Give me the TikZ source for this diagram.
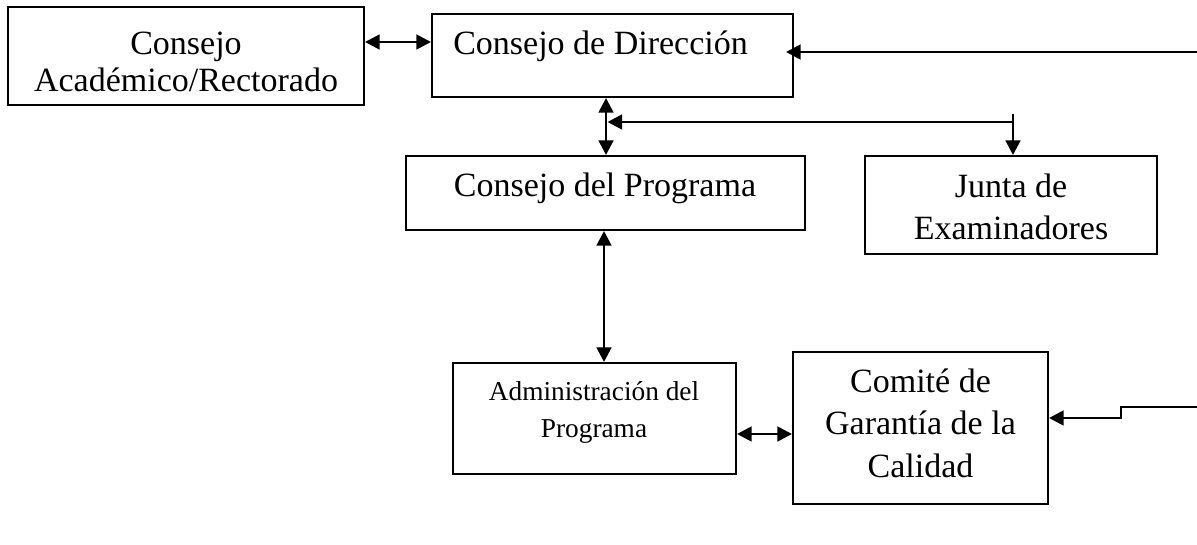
\documentclass[tikz,border=0pt]{standalone}
\usepackage{fontspec}
\setmainfont{Liberation Serif}
\usetikzlibrary{arrows.meta}
\tikzset{
  box/.style={draw, line width=1.5pt, inner sep=0pt},
  lbl/.style={anchor=base, inner sep=0pt, font=\fontsize{25.5}{30}\selectfont},
  slbl/.style={anchor=base, inner sep=0pt, font=\fontsize{20.5}{25}\selectfont},
  conn/.style={line width=2.1pt, -{Triangle[length=11pt,width=11pt]}},
  bi/.style={line width=2.1pt, {Triangle[length=11pt,width=11pt]}-{Triangle[length=11pt,width=11pt]}}
}
\begin{document}
\begin{tikzpicture}[x=0.75pt,y=-0.75pt]
\useasboundingbox (0,0) rectangle (1197,545);
% boxes
\node[box, minimum width=267pt, minimum height=73.5pt] (a) at (186,56) {};
\node[box, minimum width=270.75pt, minimum height=62.25pt] (b) at (612.5,55.5) {};
\node[box, minimum width=299.25pt, minimum height=55.5pt] (c) at (605.5,193) {};
\node[box, minimum width=219pt, minimum height=73.5pt] (j) at (1011,205) {};
\node[box, minimum width=212.25pt, minimum height=83.25pt] (d) at (594.5,418.5) {};
\node[box, minimum width=191.25pt, minimum height=114pt] (e) at (920.5,428) {};
% texts
\node[lbl] (a1) at (186,55) {Consejo};
\node[lbl] (a2) at (186,92) {Académico/Rectorado};
\node[lbl, anchor=base west] (b1) at (453,55) {Consejo de Dirección};
\node[lbl] (c1) at (605,197) {Consejo del Programa};
\node[lbl] (j1) at (1011,198) {Junta de};
\node[lbl] (j2) at (1011,240) {Examinadores};
\node[slbl] (d1) at (594,401) {Administración del};
\node[slbl] (d2) at (594,437) {Programa};
\node[lbl] (e1) at (920.5,393) {Comité de};
\node[lbl] (e2) at (920.5,435) {Garantía de la};
\node[lbl] (e3) at (920.5,478) {Calidad};
% helper coordinates
\coordinate (yab) at (0,42);
\coordinate (xbc) at (606,0);
\coordinate (xcd) at (604,0);
\coordinate (yde) at (0,434);
\coordinate (in1) at (1197,52);
\coordinate (jt) at (1013,114);
\coordinate (jh) at (1013,122);
\coordinate (jtip) at (607.5,122);
\coordinate (in2) at (1197,407);
\coordinate (st1) at (1121,407);
\coordinate (st2) at (1121,418);
% connectors
\draw[bi] (a.east |- yab) -- (b.west |- yab);
\draw[bi] (b.south -| xbc) -- (c.north -| xbc);
\draw[bi] (c.south -| xcd) -- (d.north -| xcd);
\draw[bi] (d.east |- yde) -- (e.west |- yde);
\draw[conn, shorten >=-6pt] (in1) -- (b.east |- in1);
\draw[conn] (jt) -- (j.north -| jt);
\draw[conn] (jh) -- (jtip);
\draw[conn] (in2) -- (st1) -- (st2) -- (e.east |- st2);
\end{tikzpicture}
\end{document}
